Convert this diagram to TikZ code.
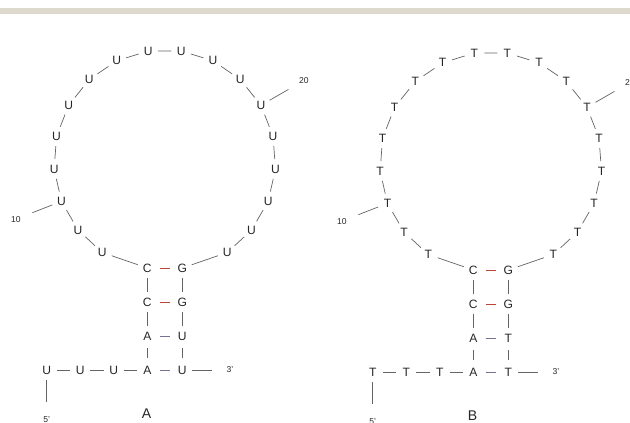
\documentclass[tikz,border=0pt]{standalone}
\usepackage{fontspec}
\setmainfont{Liberation Sans}
\definecolor{bpred}{RGB}{185,70,55}
\definecolor{bpblue}{RGB}{115,115,150}
\definecolor{bbgray}{RGB}{100,100,100}
\definecolor{barbeige}{RGB}{221,217,205}

\begin{document}
\begin{tikzpicture}[x=0.3mm, y=0.3mm,
    nt/.style={circle, inner sep=0pt, minimum size=5.85mm, text=black!85,
      font=\fontsize{10.3}{12}\selectfont},
    tick/.style={circle, inner sep=0pt, minimum size=10.5mm, text=black!85,
      font=\fontsize{7.3}{8}\selectfont},
    bb/.style={bbgray, line width=0.6pt},
    stem/.style={bb, shorten <=0.7mm, shorten >=0.7mm},
    gc/.style={bpred, line width=0.8pt, shorten <=0.7mm, shorten >=0.7mm},
    au/.style={bpblue, line width=0.8pt, shorten <=0.7mm, shorten >=0.7mm}]
    \useasboundingbox (0,0) rectangle (630,423);
    \fill[barbeige] (0,409) rectangle (630,414.5);

    \def\R{111}
    \foreach \pan/\base/\dx/\dy in {A/U/0/0, B/T/326/-2} {
      \begin{scope}[shift={(\dx,\dy)}]
        \coordinate (ctr\pan) at (164.8,262.2);

        % stem and 5' tail
        \node[nt] (c1\pan) at (147.3,155) {C};
        \node[nt] (g1\pan) at (182.3,155) {G};
        \node[nt] (c2\pan) at (147.3,121) {C};
        \node[nt] (g2\pan) at (182.3,121) {G};
        \node[nt] (a3\pan) at (147.3,87) {A};
        \node[nt] (b3\pan) at (182.3,87) {\base};
        \node[nt] (a4\pan) at (147.3,53) {A};
        \node[nt] (b4\pan) at (182.3,53) {\base};
        \node[nt] (t1\pan) at (46.8,53) {\base};
        \node[nt] (t2\pan) at (80.3,53) {\base};
        \node[nt] (t3\pan) at (113.8,53) {\base};

        % loop
        \foreach \k in {8,...,25} {
          \pgfmathsetmacro{\ang}{98.57-17.143*(\k-16)}
          \path (ctr\pan) ++(\ang:\R) node[nt] (n\k\pan) {\base};
        }

        \path (ctr\pan) ++(201.4:160) node[tick] (l10\pan) {10};
        \path (ctr\pan) ++(30:160.5) node[tick] (l20\pan) {20};
        \node[tick] (p3\pan) at (230,53) {3’};
        \node[tick] (p5\pan) at (46.8,3) {5’};
        \node[font=\fontsize{12}{14}\selectfont, text=black!85] (lab\pan) at (146.5,9.5) {\pan};

        \draw[bb] (c1\pan) -- (n8\pan);
        \foreach \k [evaluate=\k as \j using int(\k+1)] in {8,...,24}
          \draw[bb] (n\k\pan) -- (n\j\pan);
        \draw[bb] (n25\pan) -- (g1\pan);
        \draw[stem] (c1\pan) -- (c2\pan) -- (a3\pan) -- (a4\pan);
        \draw[stem] (g1\pan) -- (g2\pan) -- (b3\pan) -- (b4\pan);
        \draw[bb] (t1\pan) -- (t2\pan) -- (t3\pan) -- (a4\pan);
        \draw[gc] (c1\pan) -- (g1\pan);
        \draw[gc] (c2\pan) -- (g2\pan);
        \draw[au] (a3\pan) -- (b3\pan);
        \draw[au] (a4\pan) -- (b4\pan);
        \draw[bb] (n10\pan) -- (l10\pan);
        \draw[bb] (n20\pan) -- (l20\pan);
        \draw[bb] (b4\pan) -- (p3\pan);
        \draw[bb] (t1\pan) -- (p5\pan);
      \end{scope}
    }
\end{tikzpicture}
\end{document}
